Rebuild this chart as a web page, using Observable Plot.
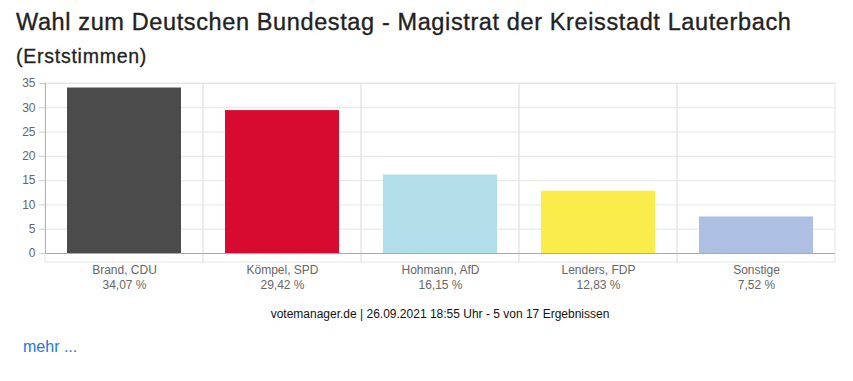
<!DOCTYPE html>
<html>
<head>
<meta charset="utf-8">
<script src="https://cdn.jsdelivr.net/npm/d3@7"></script>
<script src="https://cdn.jsdelivr.net/npm/@observablehq/plot@0.6"></script>
<style>
  html, body { margin: 0; padding: 0; background: #fff; }
  body { width: 853px; height: 381px; position: relative; overflow: hidden; font-family: "Liberation Sans", Arial, sans-serif; }
  #title { position: absolute; left: 16px; top: 8px; font-size: 23.5px; line-height: 28px; font-weight: 400; color: #222; -webkit-text-stroke: 0.35px #222; letter-spacing: 0.62px; white-space: nowrap; }
  #subtitle { position: absolute; left: 16px; top: 44px; font-size: 19.5px; line-height: 24px; font-weight: 400; color: #222; -webkit-text-stroke: 0.3px #222; letter-spacing: 0.75px; }
  #chart { position: absolute; left: 0; top: 70px; }
  #caption { position: absolute; left: 0; width: 880px; text-align: center; top: 306px; font-size: 12px; line-height: 16px; color: #111; }
  #more { position: absolute; left: 23px; top: 337px; font-size: 16px; line-height: 20px; color: #2176e6; }
</style>
</head>
<body>
<div id="title">Wahl zum Deutschen Bundestag - Magistrat der Kreisstadt Lauterbach</div>
<div id="subtitle">(Erststimmen)</div>
<div id="chart"></div>
<div id="caption">votemanager.de | 26.09.2021 18:55 Uhr - 5 von 17 Ergebnissen</div>
<div id="more">mehr ...</div>
<script>
const candidates = ["Brand, CDU", "Kömpel, SPD", "Hohmann, AfD", "Lenders, FDP", "Sonstige"];
const shares = [34.07, 29.42, 16.15, 12.83, 7.52];
const colors = ["#4b4b4b", "#d70b30", "#b2deea", "#f9ec4b", "#adc0e4"];
const yTicks = [0, 5, 10, 15, 20, 25, 30, 35];

const data = candidates.map((c, i) => ({name: c, value: shares[i], color: colors[i]}));
const fmt = v => v.toFixed(2).replace(".", ",") + " %";
const pctOf = Object.fromEntries(data.map(d => [d.name, d.value]));

const chart = Plot.plot({
  width: 853,
  height: 230,
  marginLeft: 45,
  marginRight: 18,
  marginTop: 13,
  marginBottom: 47,
  style: {fontFamily: "'Liberation Sans', Arial, sans-serif", fontSize: "12px", background: "transparent"},
  x: {type: "band", domain: candidates, padding: 0},
  y: {domain: [0, 35], ticks: yTicks},
  marks: [
    Plot.gridY(yTicks, {stroke: "#e5e5e5", strokeOpacity: 1}),
    Plot.barY(candidates, {x: d => d, y1: 0, y2: 35, fill: "none", stroke: "#e5e5e5", strokeOpacity: 1, insetBottom: -9}),
    Plot.frame({anchor: "left", stroke: "#b5b5b5"}),
    Plot.barY(data, {x: "name", y: "value", fill: "color", insetLeft: 22, insetRight: 22}),
    Plot.ruleY([0], {stroke: "#aaa"}),
    Plot.axisY(yTicks, {tickSize: 6, tickPadding: 4, stroke: "#ccc", fill: "#666", fontSize: 12, label: null}),
    Plot.axisX({tickSize: 0, tickPadding: 11, fill: "#666", fontSize: 12, lineHeight: 1.17, label: null,
      tickFormat: d => d + "\n" + fmt(pctOf[d])})
  ]
});
document.getElementById("chart").appendChild(chart);
</script>
</body>
</html>
